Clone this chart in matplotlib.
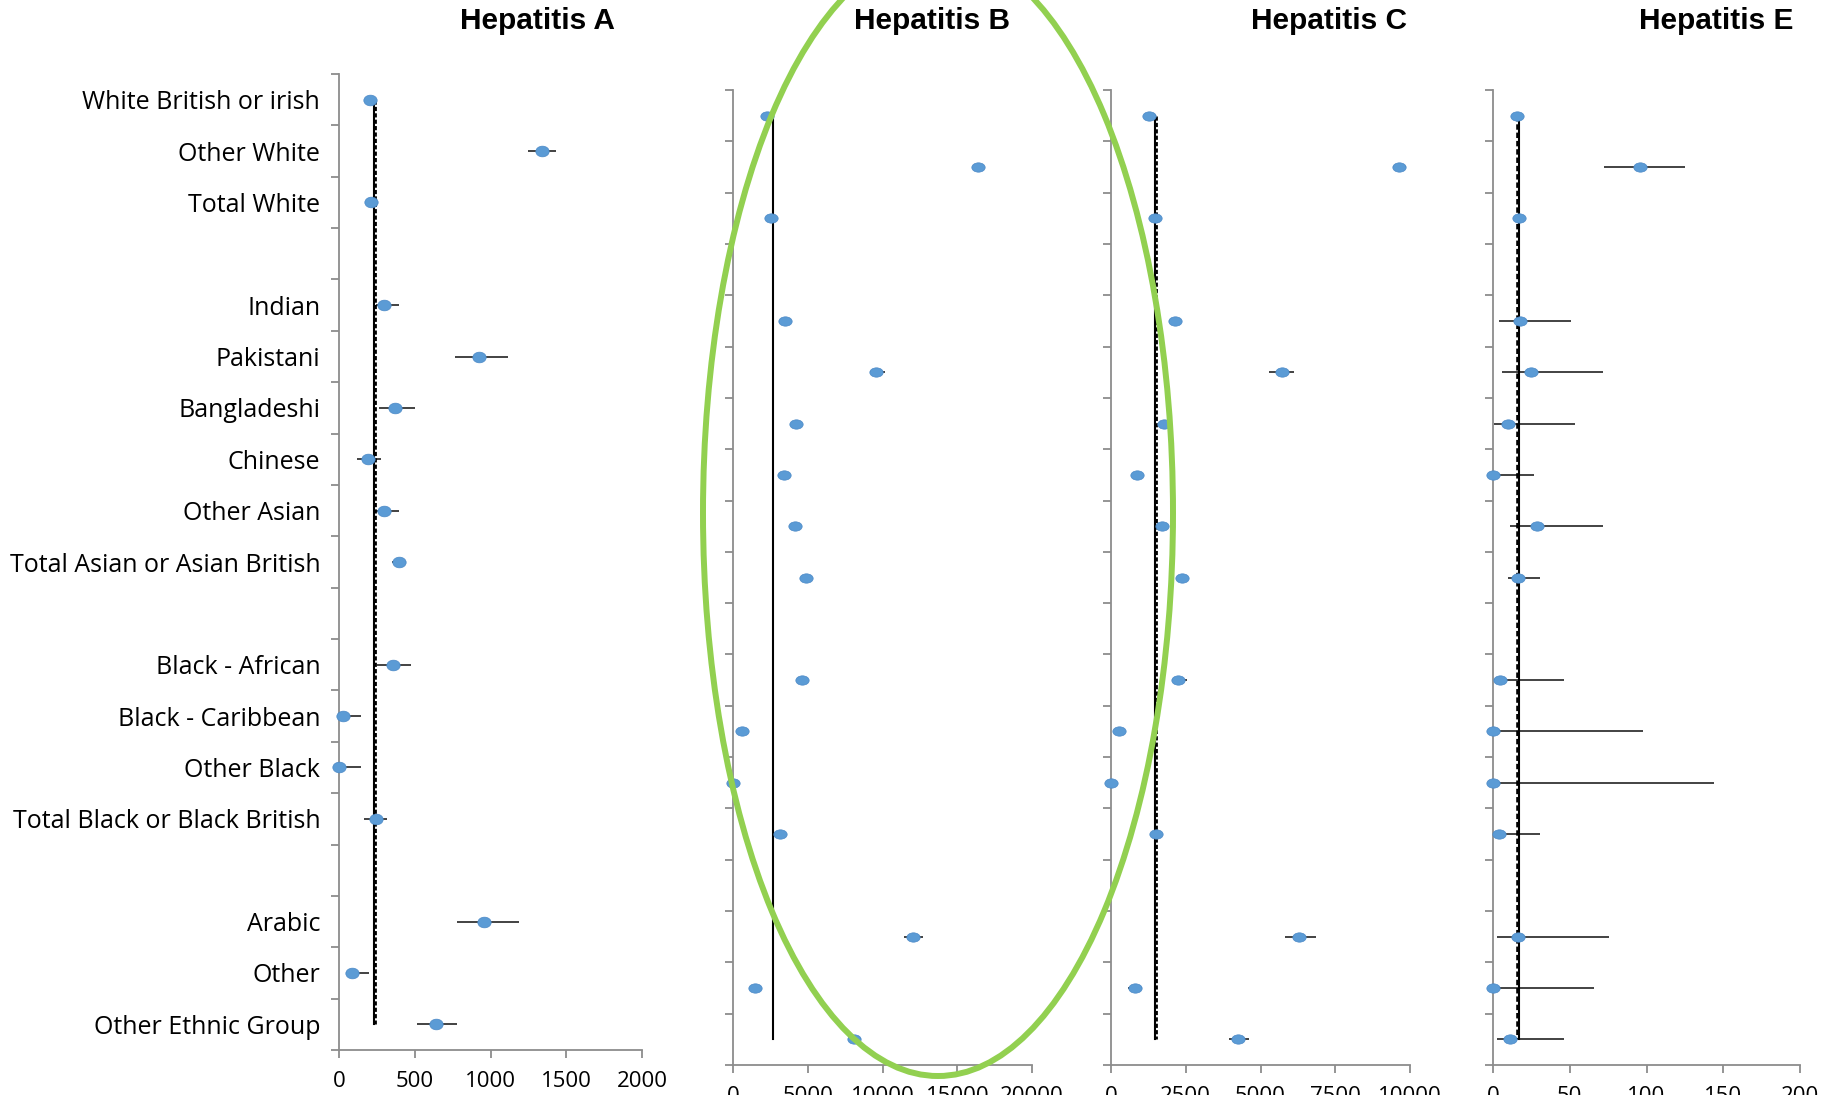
import numpy as np
import matplotlib
matplotlib.use('Agg')
from matplotlib import pyplot as plt
from matplotlib.path import Path
from matplotlib.patches import Ellipse

nan = np.nan
categories = ['White British or irish', 'Other White', 'Total White', '',
              'Indian', 'Pakistani', 'Bangladeshi', 'Chinese', 'Other Asian',
              'Total Asian or Asian British', '',
              'Black - African', 'Black - Caribbean', 'Other Black',
              'Total Black or Black British', '',
              'Arabic', 'Other', 'Other Ethnic Group']

# Hepatitis A
hepa_est = [203, 1341, 214, nan, 298, 921, 370, 192, 298, 395, nan, 359, 28, 0, 242, nan, 957, 84, 637]
hepa_lo = [195, 1249, 205, nan, 242, 768, 267, 122, 242, 353, nan, 248, 0, 0, 167, nan, 782, 45, 518]
hepa_hi = [211, 1435, 222, nan, 395, 1113, 504, 276, 395, 445, nan, 478, 142, 142, 320, nan, 1188, 200, 776]
hepa_ref = [228, 239]

# Hepatitis B
hepb_est = [2294, 16388, 2542, nan, 3500, 9587, 4236, 3390, 4125, 4861, nan, 4594, 602, 0, 3144, nan, 12018, 1472, 8116]
hepb_lo = [2200, 16250, 2450, nan, 3400, 9164, 4150, 3300, 4030, 4770, nan, 4500, 520, 0, 3050, nan, 11438, 1390, 7712]
hepb_hi = [2390, 16520, 2640, nan, 3600, 10187, 4330, 3480, 4220, 4950, nan, 4690, 690, 90, 3240, nan, 12731, 1560, 8562]
hepb_ref = [2654, None]

# Hepatitis C
hepc_est = [1282, 9642, 1461, nan, 2130, 5708, 1763, 859, 1706, 2375, nan, 2241, 256, 0, 1516, nan, 6298, 792, 4259]
hepc_lo = [1230, 9420, 1400, nan, 1940, 5295, 1650, 800, 1600, 2300, nan, 2029, 150, 0, 1450, nan, 5819, 558, 3957]
hepc_hi = [1330, 9866, 1520, nan, 2341, 6120, 2040, 920, 1916, 2450, nan, 2531, 468, 60, 1590, nan, 6846, 1026, 4615]
hepc_ref = [1461, 1495]

# Hepatitis E
hepe_est = [15.4, 95.6, 16.7, nan, 17.8, 24.7, 9.5, 0, 28.4, 16.5, nan, 4.8, 0, 0, 3.9, nan, 16.5, 0, 10.8]
hepe_lo = [14, 72.2, 15.5, nan, 3.9, 6.0, 0.4, 0, 10.8, 9.8, nan, 0.4, 0, 0, 0.5, nan, 2.6, 0, 2.6]
hepe_hi = [17, 125, 18, nan, 50.7, 71.9, 53.1, 27.0, 71.9, 30.7, nan, 46.4, 97.7, 143.9, 30.7, nan, 75.4, 65.9, 46.4]
hepe_ref = [16.9, 16.2]

titles = ['Hepatitis A', 'Hepatitis B', 'Hepatitis C', 'Hepatitis E']
xmax = [2000, 20000, 10000, 200]
xstep = [500, 5000, 2500, 50]

W, H = 1839, 1095
fig = plt.figure(figsize=(W / 100, H / 100), dpi=100)
plt.rcParams['font.family'] = ['Open Sans', 'DejaVu Sans']

# axes boxes in pixels: left, right, top, bottom
boxes = [(339, 642, 74, 1050), (733, 1032, 90, 1065),
         (1111, 1410, 90, 1065), (1493, 1800, 90, 1065)]
title_x = [538, 932, 1329, 1716]

panels = [(hepa_est, hepa_lo, hepa_hi, hepa_ref),
          (hepb_est, hepb_lo, hepb_hi, hepb_ref),
          (hepc_est, hepc_lo, hepc_hi, hepc_ref),
          (hepe_est, hepe_lo, hepe_hi, hepe_ref)]

circ = Path.unit_circle()
n = len(categories)
y = np.arange(n)
blue = '#5B9BD5'
grey = '#8C8C8C'

for i, (est, lo, hi, ref) in enumerate(panels):
    l, r, t, b = boxes[i]
    ax = fig.add_axes([l / W, 1 - b / H, (r - l) / W, (b - t) / H])
    est, lo, hi = np.array(est), np.array(lo), np.array(hi)
    ax.errorbar(est, y, xerr=[est - lo, hi - est], fmt='none', ecolor='#222222',
                elinewidth=1.2, capsize=0, zorder=2, clip_on=False)
    # reference lines
    if ref[1] is not None:
        ax.plot([ref[1], ref[1]], [0, n - 1], color='black', lw=2.6 if i == 3 else 2.0,
                ls=(0, (1.5, 0.8)), zorder=3)
    ax.plot([ref[0], ref[0]], [0, n - 1], color='black', lw=1.5, zorder=3)
    asp = 0.8 if i == 0 else 0.7
    mk = Path(circ.vertices * [1, asp], circ.codes)
    ax.plot(est, y, ls='none', marker=mk, ms=9.6, mfc=blue, mec='#4A88C6', mew=0.5,
            zorder=4, clip_on=False)

    ax.set_xlim(0, xmax[i])
    ax.set_ylim(n - 0.5, -0.5)
    ax.set_xticks(np.arange(0, xmax[i] + 1, xstep[i]))
    ax.set_yticks(np.arange(-0.5, n, 1.0))
    ax.set_yticklabels([])
    if i == 0:
        ax.set_yticks(y, minor=True)
        ax.set_yticklabels(categories, minor=True)
        ax.tick_params(axis='y', which='minor', length=0, pad=13.5, labelsize=18)
    for s in ['top', 'right']:
        ax.spines[s].set_visible(False)
    for s in ['left', 'bottom']:
        ax.spines[s].set_color(grey)
        ax.spines[s].set_linewidth(1.3)
    ax.tick_params(axis='both', which='major', direction='out', length=6,
                   width=1.3, color=grey, labelsize=16, pad=9)
    ax.patch.set_visible(False)
    fig.text(title_x[i] / W, 1 - 29 / H, titles[i], ha='center', va='baseline',
             fontsize=21.5, fontweight='bold', family='Liberation Sans')

# green highlight around the Hepatitis B panel
ell = Ellipse((938 / W, 1 - 513 / H), 2 * 235 / W, 2 * 563 / H,
              transform=fig.transFigure, fill=False, ec='#92D050', lw=4.3, zorder=10)
fig.patches.append(ell)

fig.savefig('out.png', dpi=100)
